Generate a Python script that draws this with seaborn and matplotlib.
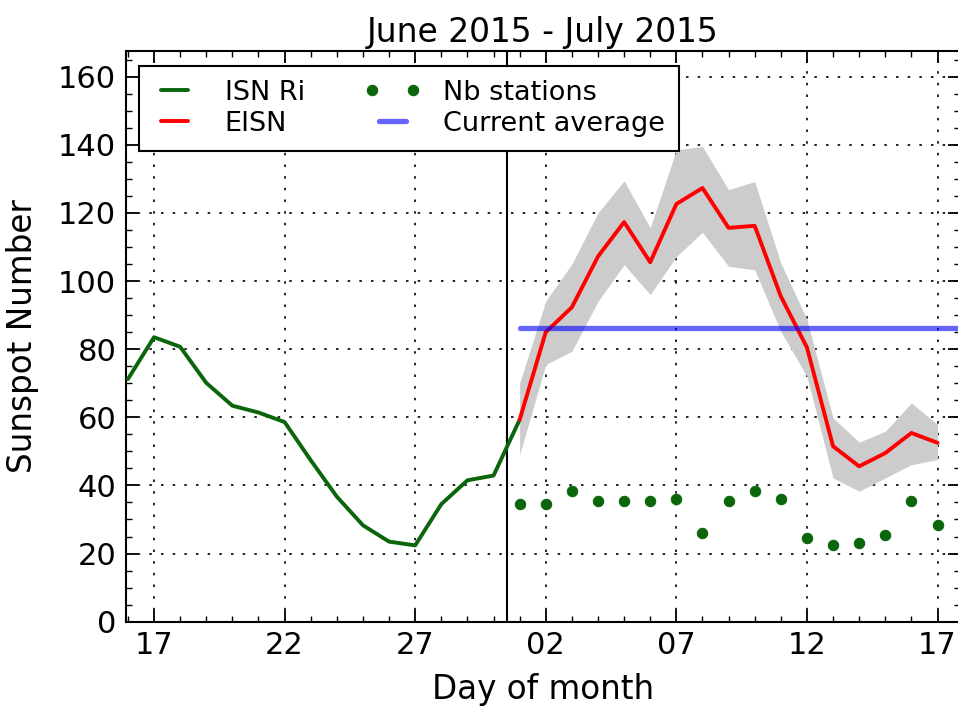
import matplotlib
matplotlib.use("Agg")
import matplotlib.pyplot as plt
import matplotlib.dates as mdates
import matplotlib.ticker as mticker
from matplotlib.legend_handler import HandlerLine2D
import seaborn as sns
import pandas as pd

# ISN Ri, daily, 16 June -> 1 July 2015
isn_dates = pd.date_range("2015-06-16", "2015-07-01", freq="D")
isn_ri = [71.2, 83.5, 80.7, 70.1, 63.4, 61.4, 58.6, 47.4, 36.7, 28.3,
          23.5, 22.4, 34.5, 41.5, 42.9, 59.3]

# EISN with its spread, 1 -> 17 July 2015
eisn_dates = pd.date_range("2015-07-01", "2015-07-17", freq="D")
eisn = [59.3, 85.0, 92.3, 107.2, 117.3, 105.5, 122.6, 127.3, 115.6, 116.2,
        95.5, 80.5, 51.5, 45.6, 49.5, 55.4, 52.5]
eisn_high = [70.1, 94.1, 105.0, 120.0, 129.4, 115.6, 138.5, 139.5, 126.8, 129.2,
             105.3, 88.7, 59.8, 52.7, 55.9, 64.2, 57.9]
eisn_low = [49.0, 75.5, 79.4, 94.0, 104.8, 96.0, 107.2, 114.3, 104.3, 103.3,
            85.2, 72.0, 42.2, 38.3, 42.2, 46.1, 47.6]
nb_stations = [34.5, 34.5, 38.5, 35.5, 35.5, 35.5, 36.0, 26.0, 35.5, 38.5,
               36.0, 24.5, 22.5, 23.0, 25.5, 35.5, 28.5]

current_average = 86.2
avg_dates = pd.to_datetime(["2015-07-01", "2015-07-18"])
now_mark = pd.Timestamp("2015-06-30 12:00")
x_range = pd.to_datetime(["2015-06-15 22:15", "2015-07-17 20:40"])
y_range = (0, 167.6)

sns.set_style("ticks")
plt.rcParams.update({
    "font.family": ["DejaVu Sans"],
    "axes.linewidth": 1.5,
    "axes.edgecolor": "black",
    "text.color": "black",
    "axes.labelcolor": "black",
    "xtick.color": "black",
    "ytick.color": "black",
})

green = "#0b650b"

fig = plt.figure(figsize=(9.58, 7.07), dpi=100)
ax = fig.add_axes([126 / 958, 85.3 / 707, 834 / 958, 571 / 707])

ax.fill_between(eisn_dates, eisn_low, eisn_high, color="0.8", lw=0, zorder=1)
sns.lineplot(x=isn_dates, y=isn_ri, color=green, lw=2.8, label="ISN Ri", ax=ax, zorder=3)
sns.lineplot(x=eisn_dates, y=eisn, color="red", lw=2.8, label="EISN", ax=ax, zorder=3)
sns.lineplot(x=eisn_dates, y=nb_stations, color=green, marker="o", linestyle="",
             markersize=7.5, markeredgecolor=green, label="Nb stations", ax=ax, zorder=3)
sns.lineplot(x=avg_dates, y=[current_average] * 2, color="blue", alpha=0.6, lw=3.8,
             label="Current average", ax=ax, zorder=4)
ax.axvline(now_mark, color="black", lw=1.5, zorder=2)

ax.set_xlim(x_range)
ax.set_ylim(y_range)
ax.xaxis.set_major_locator(mdates.DayLocator(bymonthday=[2, 7, 12, 17, 22, 27]))
ax.xaxis.set_minor_locator(mdates.DayLocator())
ax.xaxis.set_major_formatter(mdates.DateFormatter("%d"))
ax.yaxis.set_major_locator(mticker.MultipleLocator(20))
ax.yaxis.set_minor_locator(mticker.MultipleLocator(5))
ax.tick_params(which="both", direction="in", top=True, right=True)
ax.tick_params(which="major", length=8.5, width=1.3, labelsize=22, pad=7)
ax.tick_params(which="minor", length=4, width=1.0)
ax.grid(True, which="major", color="black", linestyle=(0, (1.5, 5.5)), linewidth=1.2)
for s in ax.spines.values():
    s.set_visible(True)

ax.set_title("June 2015 - July 2015", fontsize=23.7, pad=6)
ax.set_xlabel("Day of month", fontsize=23.5, labelpad=9)
ax.set_ylabel("Sunspot Number", fontsize=23.5, labelpad=14)

handles, labels = ax.get_legend_handles_labels()
dots_handle = handles[labels.index("Nb stations")]
leg = ax.legend(handles, labels, ncol=2, loc="upper left",
                bbox_to_anchor=(13 / 834, 1 - 15 / 571), borderaxespad=0,
                fontsize=19.5, numpoints=2, handlelength=1.6, handletextpad=1.05,
                columnspacing=2.45, labelspacing=0.2, borderpad=0.51,
                fancybox=False, framealpha=1, edgecolor="black",
                handler_map={dots_handle: HandlerLine2D(marker_pad=0.05)})
leg.get_frame().set_linewidth(1.5)

fig.savefig("out.png", dpi=100, facecolor="white")
